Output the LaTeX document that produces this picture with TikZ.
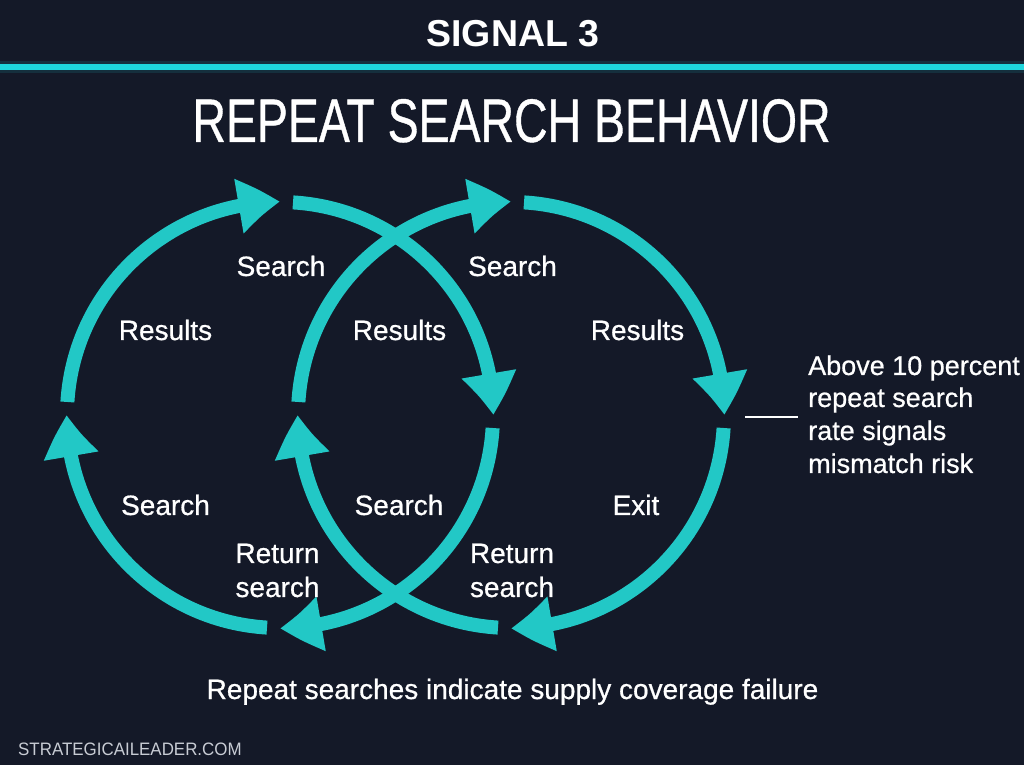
\documentclass[tikz,border=0pt]{standalone}
\usepackage{fontspec}
\setmainfont{Liberation Sans}
\newfontfamily\lblfont[FakeBold=0.7]{Liberation Sans}
\newfontfamily\condfont[FakeStretch=0.755,FakeBold=0.6]{Liberation Sans}
\newfontfamily\wmfont[FakeStretch=0.94]{Liberation Sans}
\usetikzlibrary{arrows.meta,bending}
\definecolor{bg}{RGB}{20,25,40}
\definecolor{cy}{RGB}{34,200,198}
\definecolor{cyline}{RGB}{30,214,220}
\definecolor{wm}{RGB}{200,204,212}
\begin{document}
\begin{tikzpicture}[x=1pt,y=1pt,
  cyc/.style={cy, line width=14pt, -{Triangle[length=42pt,width=52pt,bend]}},
  lbl/.style={text=white, font=\lblfont\fontsize{28}{32}\selectfont, inner sep=0pt, anchor=base},
  ann/.style={text=white, font=\lblfont\fontsize{27}{32}\selectfont, inner sep=0pt, anchor=base west},
]
\fill[bg] (0,0) rectangle (1024,765);
\useasboundingbox (0,0) rectangle (1024,765);

% header
\node[text=white, font=\bfseries\fontsize{37.5}{40}\selectfont, inner sep=0pt, anchor=base] (sig) at (513,718) {SIGNAL 3};
\coordinate (tlw) at (0,698);
\coordinate (tle) at (1024,698);
\draw[cyline, line width=12pt, opacity=0.12] (tlw) -- (tle);
\draw[cyline, line width=6pt] (tlw) -- (tle);
\node[text=white, font=\condfont\fontsize{61.5}{64}\selectfont, inner sep=0pt, anchor=base] (title) at (511.5,623) {REPEAT SEARCH BEHAVIOR};

% circles
\coordinate (L) at (280,350);
\coordinate (R) at (511,350);
\foreach \c in {L,R}{
  \foreach \q [evaluate=\q as \s using \q-3.5, evaluate=\q as \e using \q-90] in {180,90,0,-90}{
    \draw[cyc] ([shift={(\s:213)}]\c) arc[start angle=\s, end angle=\e, radius=213];
  }
}

% labels
\node[lbl] (s1) at (281,489) {Search};
\node[lbl] (r1) at (165.5,425) {Results};
\node[lbl] (r2) at (399.5,425) {Results};
\node[lbl] (s2) at (512.5,489) {Search};
\node[lbl] (r3) at (637.5,425) {Results};
\node[lbl] (s3) at (165.5,250) {Search};
\node[lbl] (s4) at (399,250) {Search};
\node[lbl] (ex) at (636,250) {Exit};
\node[lbl] (rt1) at (277.5,202) {Return};
\node[lbl] (rs1) at (277.5,168) {search};
\node[lbl] (rt2) at (512,202) {Return};
\node[lbl] (rs2) at (512,168) {search};

% annotation
\node[ann] (a1) at (808,390) {Above 10 percent};
\node[ann] (a2) at (808,358) {repeat search};
\node[ann] (a3) at (808,325) {rate signals};
\node[ann] (a4) at (808,292) {mismatch risk};
\coordinate (lnA) at (745,348);
\coordinate (lnB) at (798,348);
\draw[white, line width=2.5pt] (lnA) -- (lnB);

% footer
\node[lbl] (cap) at (512.5,66) {Repeat searches indicate supply coverage failure};
\node[text=wm, font=\wmfont\fontsize{18}{20}\selectfont, inner sep=0pt, anchor=base west] (wm) at (18,10) {STRATEGICAILEADER.COM};
\end{tikzpicture}
\end{document}
